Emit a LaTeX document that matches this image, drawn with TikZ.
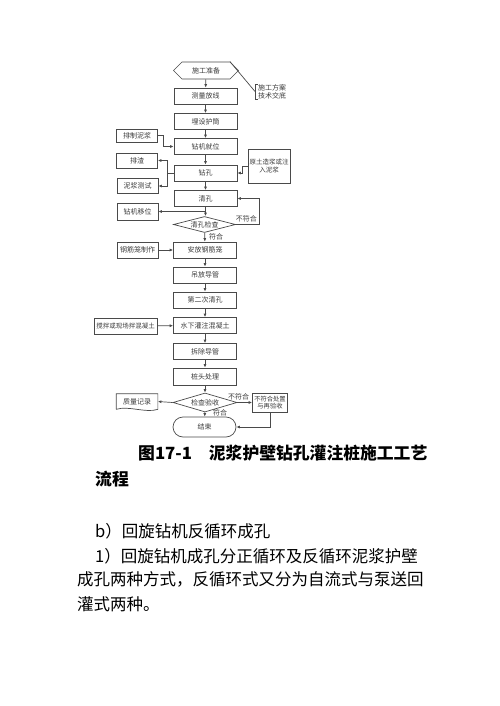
\documentclass[tikz,border=0pt]{standalone}
\usepackage{fontspec}
\setmainfont{Noto Sans CJK SC}
\usetikzlibrary{arrows.meta,shapes.geometric,shapes.symbols,calc}
\definecolor{flowline}{HTML}{4A4A4A}
\definecolor{flowtext}{HTML}{3A3A3A}
\tikzset{
  box/.style={draw=flowline,line width=0.7pt,minimum width=63pt,minimum height=16pt,inner sep=0pt,
    font=\fontsize{7}{8}\selectfont,text=flowtext},
  sidebox/.style={box,minimum width=41pt,minimum height=15pt},
  check/.style={box,diamond,aspect=4,minimum width=62pt,minimum height=16pt},
  arr/.style={draw=flowline,line width=0.7pt,-{Latex[length=3.5pt,width=3pt]}},
  link/.style={draw=flowline,line width=0.7pt},
  tag/.style={font=\fontsize{7}{8}\selectfont,text=flowtext,inner sep=0pt},
  body/.style={anchor=base west,inner sep=0pt,font=\fontsize{16.5}{18}\selectfont},
}
\begin{document}
\begin{tikzpicture}[x=1pt,y=-1pt]
\useasboundingbox (0,0) rectangle (500,706);
% main column
\node[box,signal,signal to=west and east,minimum width=65pt,minimum height=17pt] (prep) at (206,70.5) {施工准备};
\node[box] (survey) at (205.5,96) {测量放线};
\node[box] (casing) at (205.5,121.5) {埋设护筒};
\node[box] (rig) at (205.5,146.5) {钻机就位};
\node[box] (drill) at (205.5,173) {钻孔};
\node[box] (clean) at (205.5,198.5) {清孔};
\node[check] (cleanchk) at (204.5,224.5) {清孔检查};
\node[box] (cage) at (205,250) {安放钢筋笼};
\node[box] (tremie) at (205,275) {吊放导管};
\node[box] (clean2) at (205,300) {第二次清孔};
\node[box] (pour) at (205,325.5) {水下灌注混凝土};
\node[box] (remove) at (205,351.5) {拆除导管};
\node[box,minimum height=17pt] (pile) at (205,376.5) {桩头处理};
\node[check,minimum width=64pt,minimum height=19pt] (accept) at (205,402.5) {检查验收};
\node[box,rounded corners=10pt,minimum height=20pt] (finish) at (204.5,427) {结束};
% side nodes
\node[tag,align=left,anchor=west,inner xsep=3pt] (plan) at (255,91.5) {施工方案\\技术交底};
\node[sidebox,minimum height=13pt] (slurry) at (137,135.5) {排制泥浆};
\node[sidebox] (slag) at (137,160.5) {排渣};
\node[sidebox] (test) at (137.5,186) {泥浆测试};
\node[box,minimum width=42pt,minimum height=34pt,align=center,font=\fontsize{6.5}{7.5}\selectfont] (soil) at (269,166) {原土造浆或注\\入泥浆};
\node[sidebox,minimum height=17pt] (move) at (137.5,211.5) {钻机移位};
\node[sidebox,minimum height=16pt] (cagemake) at (137.5,250) {钢筋笼制作};
\node[box,font=\fontsize{6.5}{7.5}\selectfont] (concrete) at (125.5,326) {搅拌或现场拌混凝土};
\node[sidebox,draw=none] (record) at (137,401.5) {质量记录};
\node[box,minimum width=35pt,minimum height=19pt,align=center,font=\fontsize{6.3}{7.3}\selectfont] (fix) at (270,402.5) {不符合处置\\与再验收};
% main arrows
\draw[arr] (prep) -- (survey);
\draw[arr] (survey) -- (casing);
\draw[arr] (casing) -- (rig);
\draw[arr] (rig) -- (drill);
\draw[arr] (drill) -- (clean);
\draw[arr] (clean) -- (clean.south |- cleanchk.north);
\draw[arr] (cleanchk) -- (cage);
\draw[arr] (cage) -- (tremie);
\draw[arr] (tremie) -- (clean2);
\draw[arr] (clean2) -- (pour);
\draw[arr] (pour) -- (remove);
\draw[arr] (remove) -- (pile);
\draw[arr] (pile) -- (accept);
\draw[arr] (accept) -- (finish);
% side links
\draw[link] ([xshift=24pt]prep.north) -- (plan.west);
\draw[link] ([xshift=3pt]plan.north west) -- (plan.north west) -- (plan.south west) -- ([xshift=3pt]plan.south west);
\draw[arr] (slurry.east) -- ++(5,0) |- (rig.west);
\draw[arr] (drill.west) -- ++(-6,0) |- (slag.east);
\draw[arr] (drill.west) -- ++(-6,0) |- (test.east);
\draw[arr] (soil.west) -- ++(-5,0) |- (drill.east);
\draw[arr] (clean.south |- move.east) -- (move.east);
\draw[arr] (cleanchk.east) -- ++(23,0) |- (clean.east);
\node[tag,anchor=south east] at (257,222.5) {不符合};
\node[tag,anchor=west] at (209,236.5) {符合};
\draw[arr] (cagemake) -- (cage);
\draw[arr] (concrete) -- (pour);
\draw[link] (record.south west) -- (record.north west) -- (record.north east) -- (record.south east)
  .. controls +(-12,4) and +(12,-4) .. (record.south west);
\draw[arr] (accept.west) -- (record.east);
\draw[arr] (accept.east) -- (fix.west);
\node[tag,anchor=south west] at (228,400) {不符合};
\node[tag,anchor=west] at (213,412.5) {符合};
\draw[arr] (fix.south) |- (finish.east);
% text below
\node[body,font=\fontsize{16.8}{18}\selectfont\bfseries] (cap) at (138,459) {图17-1　泥浆护壁钻孔灌注桩施工工艺};
\node[body,font=\fontsize{16.8}{18}\selectfont\bfseries] (cap2) at (95,485) {流程};
\node[body] (sub) at (95,537) {b）回旋钻机反循环成孔};
\node[body] (line1) at (95,562) {1）回旋钻机成孔分正循环及反循环泥浆护壁};
\node[body] (line2) at (77,585) {成孔两种方式，反循环式又分为自流式与泵送回};
\node[body] (line3) at (77,610) {灌式两种。};
\end{tikzpicture}
\end{document}
